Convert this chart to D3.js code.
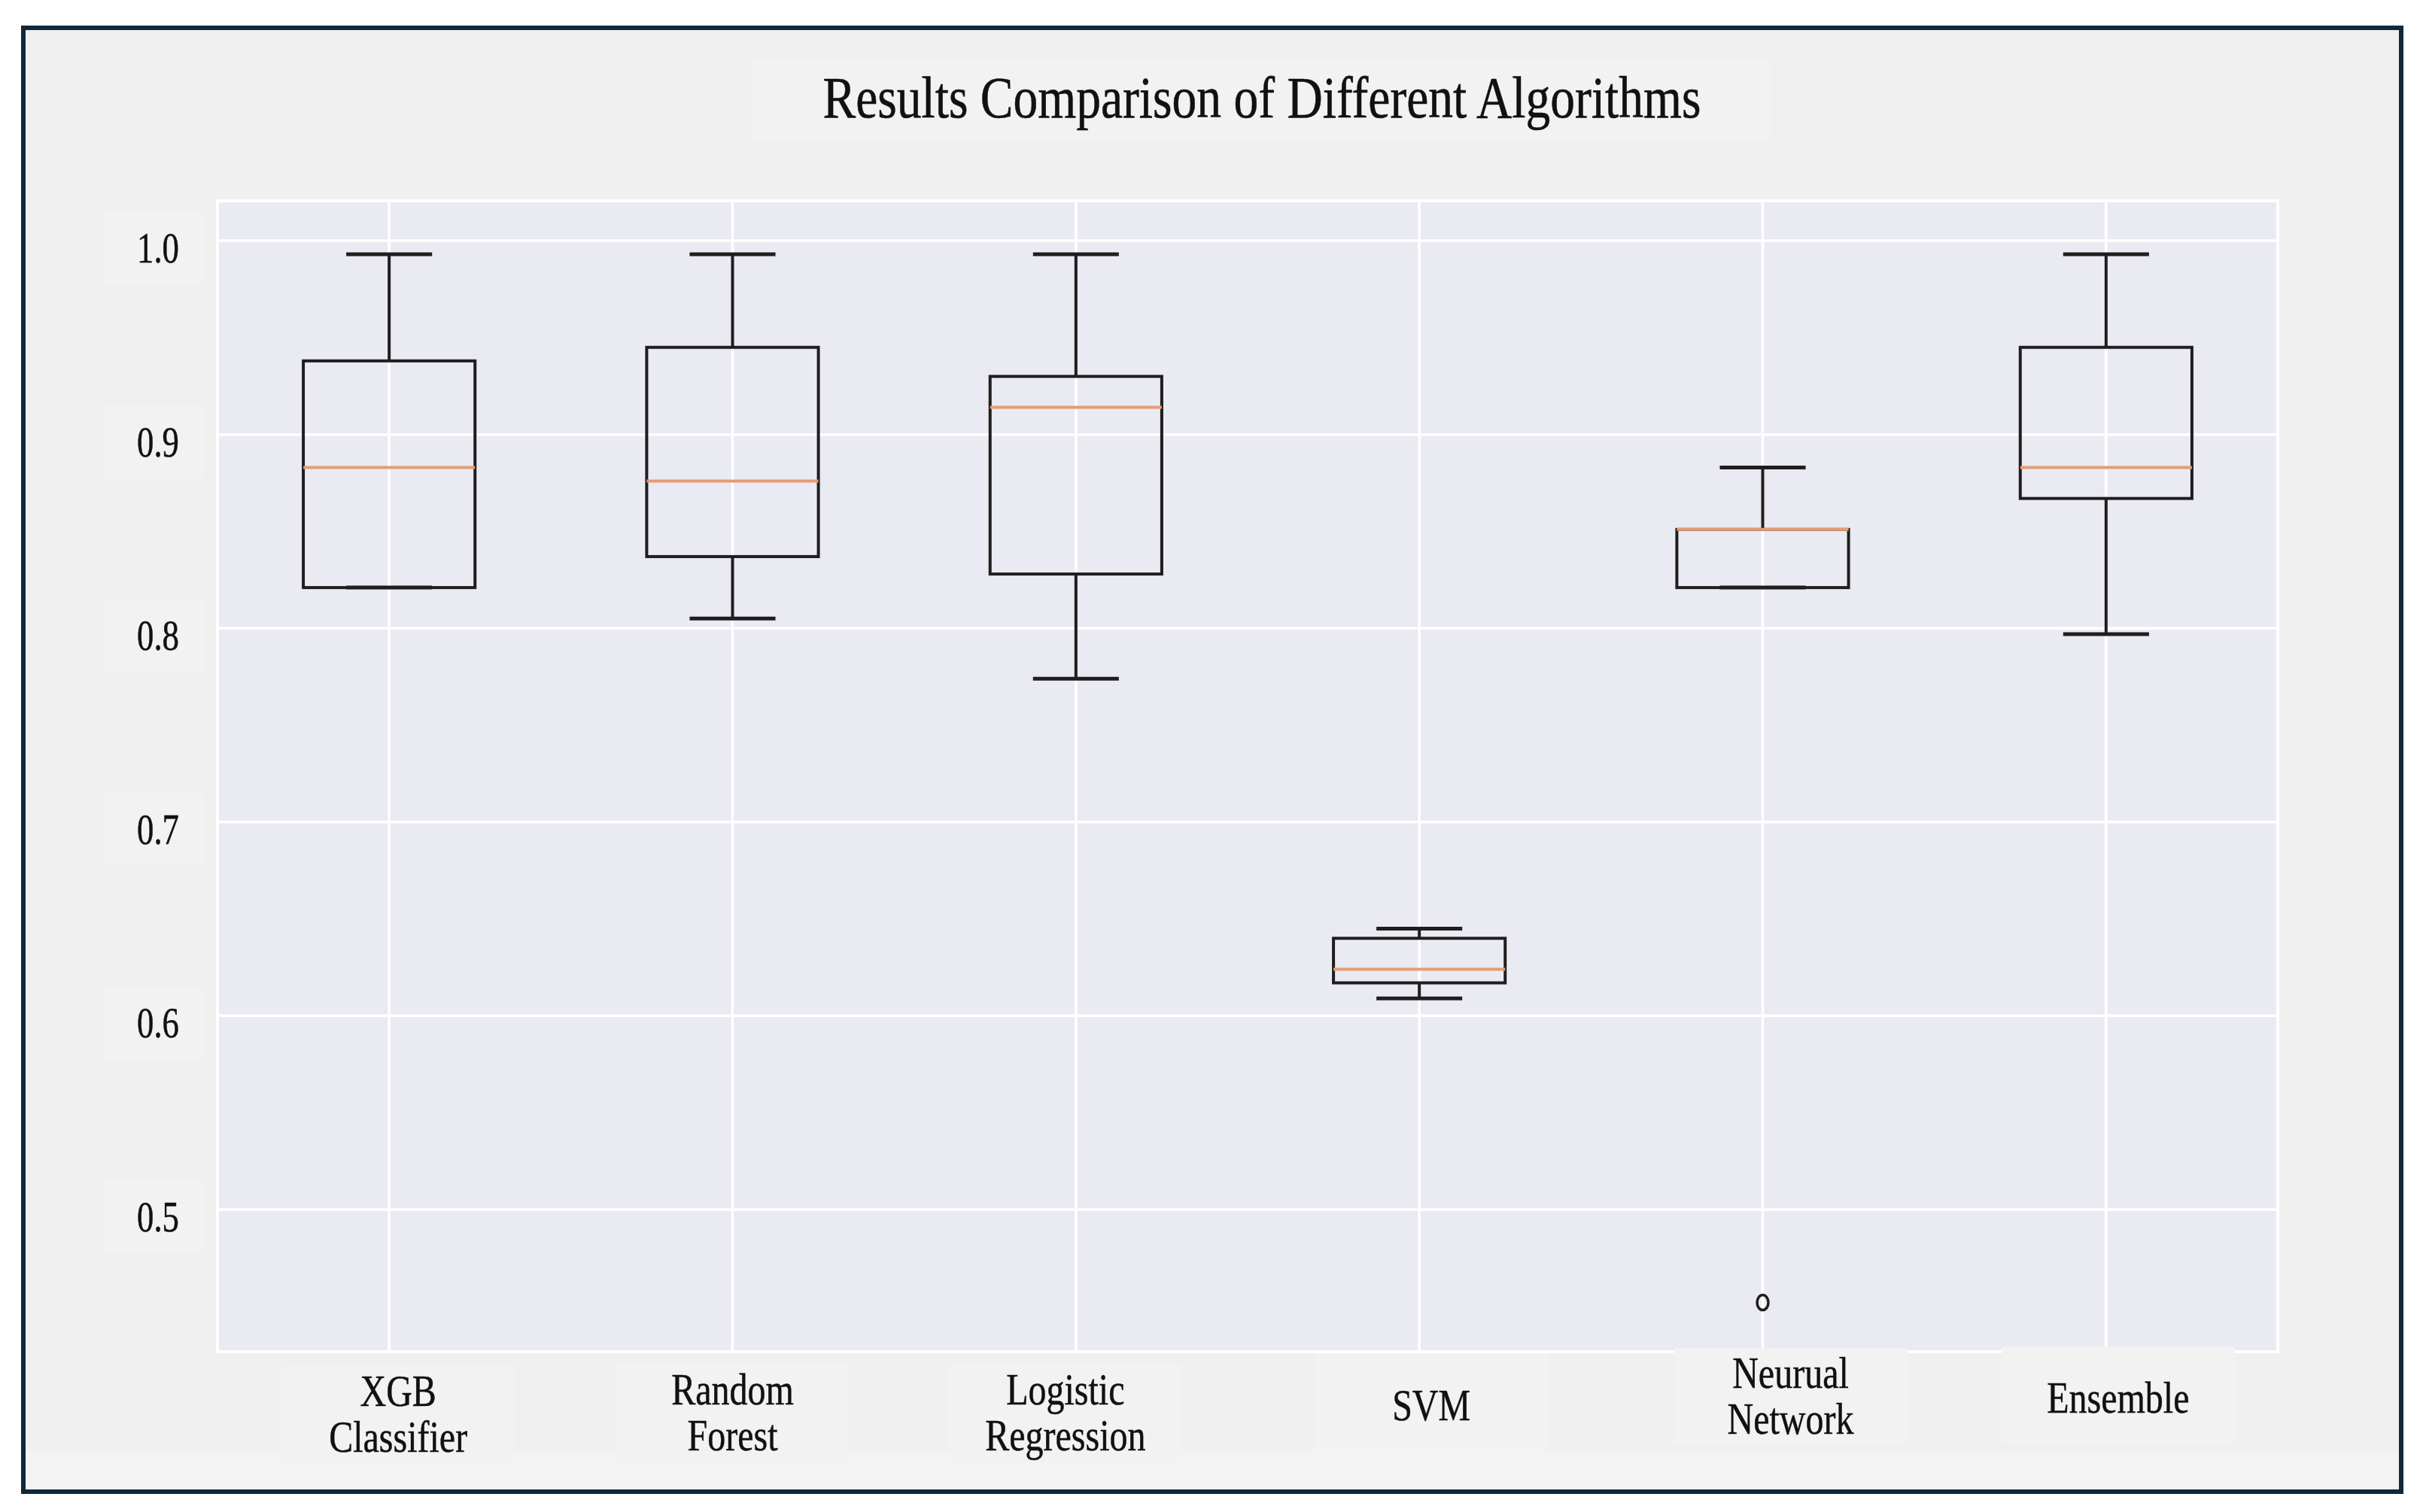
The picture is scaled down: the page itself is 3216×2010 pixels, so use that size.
<!DOCTYPE html>
<html>
<head>
<meta charset="utf-8">
<script src="https://cdn.jsdelivr.net/npm/d3@7"></script>
<style>
  html, body { margin: 0; padding: 0; background: #ffffff; }
  svg { display: block; }
</style>
</head>
<body>
<svg id="chart" width="3216" height="2010"></svg>
<script>
// ---------------- data ----------------
const title = "Results Comparison of Different Algorithms";
const categories = ["XGB\nClassifier", "Random\nForest", "Logistic\nRegression", "SVM", "Neurual\nNetwork", "Ensemble"];
const whiskerHigh = [0.993, 0.993, 0.993, 0.645, 0.883, 0.993];
const q3          = [0.938, 0.945, 0.930, 0.640, 0.851, 0.945];
const medians     = [0.883, 0.876, 0.914, 0.624, 0.851, 0.883];
const q1          = [0.821, 0.837, 0.828, 0.617, 0.821, 0.867];
const whiskerLow  = [0.821, 0.805, 0.774, 0.609, 0.821, 0.797];
const outliers    = [[], [], [], [], [0.452], []];
const yTicks      = [0.5, 0.6, 0.7, 0.8, 0.9, 1.0];
const yTickLabels = ["0.5", "0.6", "0.7", "0.8", "0.9", "1.0"];

// ---------------- layout ----------------
const W = 3216, H = 2010;
const frame = {x: 31, y: 37, w: 3160, h: 1946};
const plot = {left: 289, right: 3027, top: 267, bottom: 1797};
const labelNudge = [[12, 8], [0, 6], [-14, 6], [16, -4], [37, -16], [16, -14]];
const condense = 0.8;

const svg = d3.select("#chart");

// frame
svg.append("rect").attr("x", frame.x).attr("y", frame.y).attr("width", frame.w).attr("height", frame.h)
  .attr("fill", "#f0f0f0").attr("stroke", "#10283a").attr("stroke-width", 6);
// faint lighter band at the bottom
svg.append("rect").attr("x", frame.x + 3).attr("y", 1928).attr("width", frame.w - 6).attr("height", frame.y + frame.h - 3 - 1928)
  .attr("fill", "#f3f3f3");

// scales
const x = d3.scaleLinear().domain([0.5, categories.length + 0.5]).range([plot.left, plot.right]);
const y = d3.scaleLinear().domain([0.4266, 1.0206]).range([plot.bottom, plot.top]);
const boxW = x(1.25) - x(0.75);   // box width 0.5 units
const capW = boxW / 2;

// title with light box
const titleG = svg.append("g");
titleG.append("rect").attr("x", 1000).attr("y", 78).attr("width", 1352).attr("height", 110).attr("fill", "#f2f2f2");
titleG.append("text")
  .attr("x", 1677).attr("y", 156)
  .attr("text-anchor", "middle")
  .attr("font-family", "'Liberation Serif', 'DejaVu Serif', serif")
  .attr("font-size", 78)
  .attr("fill", "#111")
  .attr("stroke", "#111").attr("stroke-width", 0.6)
  .attr("textLength", 1167).attr("lengthAdjust", "spacingAndGlyphs")
  .text(title);

// plot background
svg.append("rect").attr("x", plot.left).attr("y", plot.top)
  .attr("width", plot.right - plot.left).attr("height", plot.bottom - plot.top)
  .attr("fill", "#eaeaf2").attr("stroke", "#ffffff").attr("stroke-width", 4);

// grid
const grid = svg.append("g");
grid.selectAll("line.h").data(yTicks).join("line")
  .attr("x1", plot.left).attr("x2", plot.right)
  .attr("y1", d => y(d)).attr("y2", d => y(d))
  .attr("stroke", "#ffffff").attr("stroke-width", 3.5);
grid.selectAll("line.v").data(categories).join("line")
  .attr("x1", (d, i) => x(i + 1)).attr("x2", (d, i) => x(i + 1))
  .attr("y1", plot.top).attr("y2", plot.bottom)
  .attr("stroke", "#ffffff").attr("stroke-width", 3.5);

// y tick labels (with faint boxes)
const yl = svg.append("g");
yTicks.forEach((t, i) => {
  const cy = y(t) + 10;
  yl.append("rect").attr("x", 138).attr("y", cy - 48).attr("width", 132).attr("height", 96).attr("fill", "#f2f2f2");
  const g = yl.append("g").attr("transform", `translate(238,${cy + 19}) scale(${condense},1)`);
  g.append("text").attr("text-anchor", "end")
    .attr("font-family", "'Liberation Serif', 'DejaVu Serif', serif")
    .attr("font-size", 56).attr("fill", "#111")
    .attr("stroke", "#111").attr("stroke-width", 0.5)
    .text(yTickLabels[i]);
});

// x tick labels
const xl = svg.append("g");
categories.forEach((c, i) => {
  const lines = c.split("\n");
  const cx = x(i + 1) + labelNudge[i][0];
  const cy = 1872 + labelNudge[i][1];
  const lh = 61;
  const bw = 310, bh = 128;
  xl.append("rect").attr("x", cx - bw / 2).attr("y", cy - bh / 2 - (lines.length === 1 ? 4 : 0))
    .attr("width", bw).attr("height", bh).attr("fill", "#f2f2f2");
  const g = xl.append("g").attr("transform", `translate(${cx},0) scale(${condense},1)`);
  lines.forEach((ln, k) => {
    const base = cy - (lines.length - 1) * lh / 2 + k * lh + 20;
    g.append("text").attr("x", 0).attr("y", base)
      .attr("text-anchor", "middle")
      .attr("font-family", "'Liberation Serif', 'DejaVu Serif', serif")
      .attr("font-size", 60).attr("fill", "#111")
      .attr("stroke", "#111").attr("stroke-width", 0.5)
      .text(ln);
  });
});

// boxes
const boxes = svg.append("g").attr("fill", "none").attr("stroke", "#1e1e1e").attr("stroke-width", 4);
categories.forEach((c, i) => {
  const cx = x(i + 1);
  // whiskers
  boxes.append("line").attr("x1", cx).attr("x2", cx).attr("y1", y(q3[i])).attr("y2", y(whiskerHigh[i]));
  boxes.append("line").attr("x1", cx).attr("x2", cx).attr("y1", y(q1[i])).attr("y2", y(whiskerLow[i]));
  // caps
  boxes.append("line").attr("x1", cx - capW / 2).attr("x2", cx + capW / 2)
    .attr("y1", y(whiskerHigh[i])).attr("y2", y(whiskerHigh[i])).attr("stroke-width", 5);
  boxes.append("line").attr("x1", cx - capW / 2).attr("x2", cx + capW / 2)
    .attr("y1", y(whiskerLow[i])).attr("y2", y(whiskerLow[i])).attr("stroke-width", 5);
  // box
  boxes.append("rect").attr("x", cx - boxW / 2).attr("y", y(q3[i]))
    .attr("width", boxW).attr("height", y(q1[i]) - y(q3[i]));
  // median
  svg.append("line").attr("x1", cx - boxW / 2).attr("x2", cx + boxW / 2)
    .attr("y1", y(medians[i])).attr("y2", y(medians[i]))
    .attr("stroke", "#e59b76").attr("stroke-width", 4);
  // outliers
  outliers[i].forEach(v => {
    svg.append("ellipse").attr("cx", cx).attr("cy", y(v)).attr("rx", 7.5).attr("ry", 10)
      .attr("fill", "none").attr("stroke", "#1e1e1e").attr("stroke-width", 3.5);
  });
});
</script>
</body>
</html>
